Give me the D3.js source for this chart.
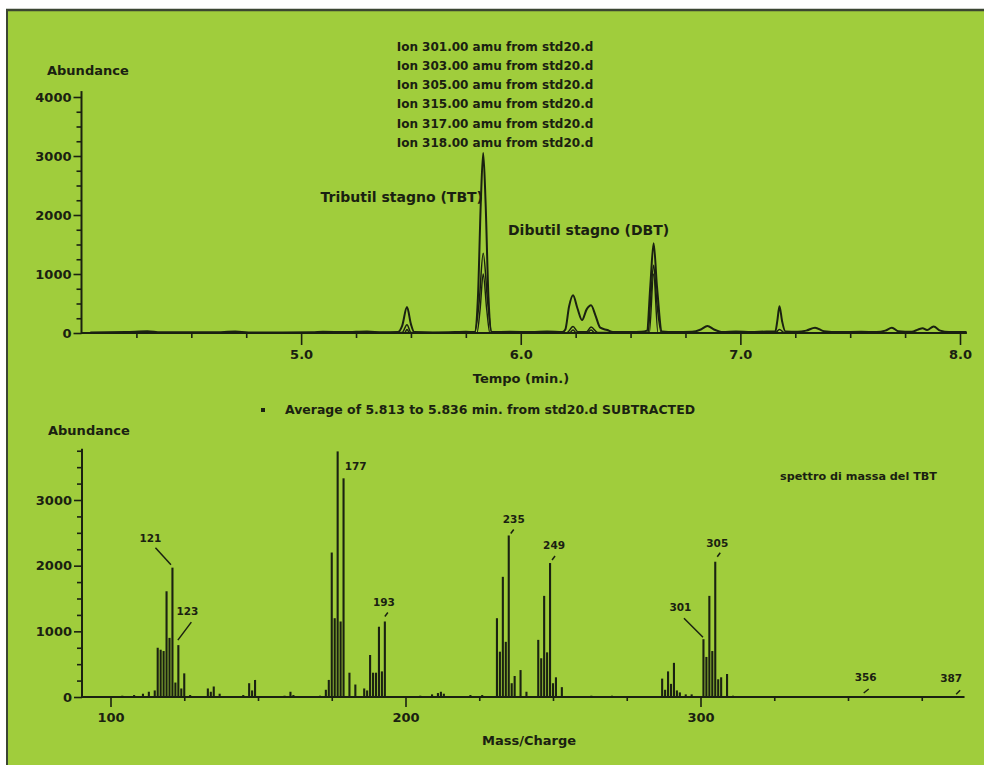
<!DOCTYPE html>
<html>
<head>
<meta charset="utf-8">
<script src="https://cdn.jsdelivr.net/npm/d3@7"></script>
<style>
  body { margin: 0; background: #fff; }
  svg text { font-family: "DejaVu Sans", sans-serif; font-weight: bold; fill: #1a2111; }
</style>
</head>
<body>
<svg id="chart" width="984" height="765"></svg>
<script>
// ---- data ----
const ionLabels = [
  "Ion 301.00 amu from std20.d",
  "Ion 303.00 amu from std20.d",
  "Ion 305.00 amu from std20.d",
  "Ion 315.00 amu from std20.d",
  "Ion 317.00 amu from std20.d",
  "Ion 318.00 amu from std20.d"
];

// chromatogram traces: [time (min), abundance]
const traceOuter = [
  [4.04, 10], [4.2, 15], [4.3, 30], [4.36, 12], [4.6, 12], [4.7, 25], [4.76, 10],
  [5.05, 12], [5.1, 20], [5.2, 15], [5.3, 25], [5.37, 12],
  [5.44, 15], [5.46, 120], [5.482, 440], [5.5, 150], [5.515, 15],
  [5.6, 10], [5.7, 15], [5.75, 20], [5.79, 15], [5.805, 600], [5.818, 2200], [5.829, 3050],
  [5.84, 2200], [5.853, 600], [5.868, 15],
  [5.95, 20], [6.05, 15], [6.12, 25], [6.19, 15], [6.203, 60], [6.22, 450], [6.238, 640],
  [6.258, 420], [6.279, 220], [6.3, 400], [6.32, 470], [6.34, 300], [6.362, 90], [6.394, 50], [6.42, 15],
  [6.5, 15], [6.55, 20], [6.575, 40], [6.59, 800], [6.605, 1520], [6.62, 800], [6.643, 25],
  [6.7, 15], [6.78, 20], [6.82, 60], [6.85, 120], [6.88, 60], [6.92, 15], [6.98, 25], [7.05, 15], [7.12, 25],
  [7.159, 25], [7.168, 200], [7.178, 455], [7.19, 200], [7.205, 25],
  [7.26, 20], [7.3, 40], [7.34, 90], [7.38, 30], [7.45, 15], [7.55, 20], [7.62, 15],
  [7.66, 40], [7.69, 90], [7.72, 30], [7.78, 20], [7.81, 60], [7.83, 80], [7.85, 50],
  [7.88, 110], [7.91, 40], [7.95, 15], [8.03, 15]
];
const traceMiddle = [
  [4.04, 0], [5.0, 5], [5.46, 10], [5.482, 140], [5.5, 10], [5.79, 5], [5.81, 500], [5.829, 1350],
  [5.85, 500], [5.868, 5], [6.21, 5], [6.238, 110], [6.26, 20], [6.3, 20], [6.32, 100], [6.35, 10],
  [6.58, 10], [6.59, 500], [6.605, 1150], [6.62, 500], [6.64, 5], [7.16, 5], [7.178, 60], [7.2, 5], [8.03, 5]
];
const traceInner = [
  [4.04, -5], [5.47, -5], [5.482, 60], [5.495, -5], [5.8, -5], [5.815, 400], [5.829, 1000],
  [5.845, 400], [5.86, -5], [6.22, -5], [6.238, 50], [6.255, -5], [6.3, -5], [6.32, 50], [6.34, -5],
  [6.585, -5], [6.605, 1000], [6.625, -5], [8.03, -5]
];

// mass spectrum
const massCharge = [
  104, 108, 111, 113, 115, 116, 117, 118, 119, 120, 121, 122, 123, 124, 125, 127,
  133, 134, 135, 137, 145, 147, 148, 149, 159, 161, 162, 171,
  173, 174, 175, 176, 177, 178, 179, 181, 183,
  186, 187, 188, 189, 190, 191, 192, 193,
  205, 209, 211, 212, 213, 222, 226,
  231, 232, 233, 234, 235, 236, 237, 239, 241,
  245, 246, 247, 248, 249, 250, 251, 253, 263, 270,
  287, 288, 289, 290, 291, 292, 293, 295, 297,
  301, 302, 303, 304, 305, 306, 307, 309, 311, 356, 387
];
const abundance = [
  20, 30, 50, 80, 100, 750, 720, 700, 1610, 900, 1970, 220, 790, 130, 360, 30,
  130, 80, 160, 50, 30, 210, 100, 260, 20, 80, 30, 20,
  110, 260, 2200, 1200, 3740, 1150, 3330, 370, 190,
  130, 100, 640, 370, 370, 1070, 390, 1150,
  20, 40, 60, 80, 50, 30, 30,
  1200, 690, 1830, 840, 2460, 210, 320, 410, 80,
  870, 590, 1540, 680, 2040, 210, 300, 150, 20, 20,
  280, 110, 390, 200, 520, 100, 70, 40, 40,
  880, 610, 1540, 700, 2060, 270, 300, 350, 20, 15, 10
];
const labelledPeaks = [121, 123, 177, 193, 235, 249, 301, 305, 356, 387];

const timeMajor = [5, 6, 7, 8];
const massMajor = [100, 200, 300];

// ---- drawing ----
const ink = "#1a2111";
const svg = d3.select("#chart");

// green panel with dark top/left edge
svg.append("rect").attr("x", 6).attr("y", 9).attr("width", 978).attr("height", 756).attr("fill", "#a0cd3c");
svg.append("line").attr("x1", 6).attr("y1", 10).attr("x2", 984).attr("y2", 10)
  .attr("stroke", "#3b4632").attr("stroke-width", 2.5);
svg.append("line").attr("x1", 7).attr("y1", 9).attr("x2", 7).attr("y2", 765)
  .attr("stroke", "#3b4632").attr("stroke-width", 2);

function styleAxis(g, size) {
  g.select(".domain").remove();
  g.selectAll("line").attr("stroke", ink).attr("stroke-width", 1.6);
  g.selectAll("text").attr("fill", ink).style("font-size", size + "px");
}

// ---------- top: chromatogram ----------
const xT = d3.scaleLinear().domain([4, 8]).range([81.5, 960]);
const yT = d3.scaleLinear().domain([0, 4000]).range([333, 97]);

svg.append("line").attr("x1", xT(4)).attr("x2", xT(4))
  .attr("y1", yT(0) + 1).attr("y2", yT(4100)).attr("stroke", ink).attr("stroke-width", 2);
svg.append("line").attr("x1", xT(4)).attr("x2", xT(8.03))
  .attr("y1", yT(0)).attr("y2", yT(0)).attr("stroke", ink).attr("stroke-width", 1.8);

svg.append("g").attr("transform", `translate(${xT(4)},0)`)
  .call(d3.axisLeft(yT).tickValues([0, 1000, 2000, 3000, 4000]).tickSize(8).tickPadding(2)
    .tickSizeOuter(0).tickFormat(d3.format("d")))
  .call(g => styleAxis(g, 13));
svg.append("g").attr("transform", `translate(${xT(4)},0)`)
  .call(d3.axisLeft(yT).tickValues(d3.range(250, 4000, 250).filter(v => v % 1000)).tickSize(5)
    .tickSizeOuter(0).tickFormat(""))
  .call(g => styleAxis(g, 13));

svg.append("g").attr("transform", `translate(0,${yT(0)})`)
  .call(d3.axisBottom(xT).tickValues(timeMajor).tickSize(12).tickPadding(5)
    .tickSizeOuter(0).tickFormat(d3.format(".1f")))
  .call(g => styleAxis(g, 13));
svg.append("g").attr("transform", `translate(0,${yT(0)})`)
  .call(d3.axisBottom(xT).tickValues(d3.range(4.25, 8, 0.25).filter(v => !timeMajor.includes(v)))
    .tickSize(5).tickSizeOuter(0).tickFormat(""))
  .call(g => styleAxis(g, 13));

const line = d3.line().x(d => xT(d[0])).y(d => yT(d[1])).curve(d3.curveMonotoneX);
[[traceInner, 1.4], [traceMiddle, 1.5], [traceOuter, 2]].forEach(([tr, w]) => {
  svg.append("path").datum(tr).attr("d", line)
    .attr("fill", "none").attr("stroke", ink).attr("stroke-width", w).attr("stroke-linejoin", "round");
});

svg.append("text").attr("x", 47).attr("y", 75).style("font-size", "13px").text("Abundance");
svg.selectAll(".ion").data(ionLabels).join("text")
  .attr("x", 495).attr("y", (d, i) => 50.5 + i * 19.3)
  .attr("text-anchor", "middle").style("font-size", "12px").text(d => d);
svg.append("text").attr("x", 483).attr("y", 202).attr("text-anchor", "end")
  .style("font-size", "14px").text("Tributil stagno (TBT)");
svg.append("text").attr("x", 508).attr("y", 235)
  .style("font-size", "14px").text("Dibutil stagno (DBT)");
svg.append("text").attr("x", 521).attr("y", 383).attr("text-anchor", "middle")
  .style("font-size", "13px").text("Tempo (min.)");

svg.append("rect").attr("x", 261).attr("y", 408).attr("width", 4).attr("height", 4).attr("fill", ink);
svg.append("text").attr("x", 285).attr("y", 414).attr("textLength", 410).attr("lengthAdjust", "spacingAndGlyphs")
  .style("font-size", "13px").text("Average of 5.813 to 5.836 min. from std20.d SUBTRACTED");

// ---------- bottom: mass spectrum ----------
const xB = d3.scaleLinear().domain([100, 300]).range([110.5, 700.5]);
const yB = d3.scaleLinear().domain([0, 3000]).range([697, 500]);

svg.append("line").attr("x1", 82).attr("x2", 82)
  .attr("y1", yB(0) + 1).attr("y2", yB(3780)).attr("stroke", ink).attr("stroke-width", 2);
svg.append("line").attr("x1", 82).attr("x2", xB(389.5))
  .attr("y1", yB(0)).attr("y2", yB(0)).attr("stroke", ink).attr("stroke-width", 1.8);

svg.append("g").attr("transform", "translate(82,0)")
  .call(d3.axisLeft(yB).tickValues([0, 1000, 2000, 3000]).tickSize(8).tickPadding(2)
    .tickSizeOuter(0).tickFormat(d3.format("d")))
  .call(g => styleAxis(g, 13));
svg.append("g").attr("transform", "translate(82,0)")
  .call(d3.axisLeft(yB).tickValues(d3.range(250, 3800, 250).filter(v => v % 1000)).tickSize(5)
    .tickSizeOuter(0).tickFormat(""))
  .call(g => styleAxis(g, 13));

svg.append("g").attr("transform", `translate(0,${yB(0)})`)
  .call(d3.axisBottom(xB).tickValues(massMajor).tickSize(10).tickPadding(6)
    .tickSizeOuter(0).tickFormat(d3.format("d")))
  .call(g => styleAxis(g, 13));
svg.append("g").attr("transform", `translate(0,${yB(0)})`)
  .call(d3.axisBottom(xB).tickValues(d3.range(125, 390, 25).filter(v => !massMajor.includes(v)))
    .tickSize(4).tickSizeOuter(0).tickFormat(""))
  .call(g => styleAxis(g, 13));

const spectrum = massCharge.map((m, i) => ({ m, v: abundance[i] }));
svg.append("g").selectAll("line").data(spectrum).join("line")
  .attr("x1", d => xB(d.m)).attr("x2", d => xB(d.m))
  .attr("y1", yB(0)).attr("y2", d => yB(d.v))
  .attr("stroke", ink).attr("stroke-width", 2.1);

// peak annotations: label offset and leader / tick mark relative to bar top
const annot = {
  121: { dx: -22, dy: -30, lead: [-17, -20, -1.5, -3] },
  123: { dx: 9, dy: -34, lead: [13, -23, -0.5, -5] },
  177: { dx: 18, dy: 15, lead: null },
  193: { dx: -1, dy: -19, lead: [0, -5, 3, -9] },
  235: { dx: 5, dy: -16, lead: [2, -2, 5, -6] },
  249: { dx: 4, dy: -18, lead: [2, -3, 5, -7] },
  301: { dx: -23, dy: -32, lead: [-19.5, -21, -0.5, -2] },
  305: { dx: 2, dy: -19, lead: [2, -5, 5, -9] },
  356: { dx: 0, dy: -19, lead: [-2, -3, 3, -7] },
  387: { dx: -6, dy: -18, lead: [-1, -2, 3, -6] }
};
labelledPeaks.forEach(m => {
  const v = abundance[massCharge.indexOf(m)];
  const px = xB(m), py = yB(v), a = annot[m];
  svg.append("text").attr("x", px + a.dx).attr("y", py + a.dy + 4)
    .attr("text-anchor", "middle").style("font-size", "10.5px").text(m);
  if (a.lead) {
    svg.append("line")
      .attr("x1", px + a.lead[0]).attr("y1", py + a.lead[1])
      .attr("x2", px + a.lead[2]).attr("y2", py + a.lead[3])
      .attr("stroke", ink).attr("stroke-width", 1.5);
  }
});

svg.append("text").attr("x", 48).attr("y", 435).style("font-size", "13px").text("Abundance");
svg.append("text").attr("x", 780).attr("y", 480).attr("textLength", 157).attr("lengthAdjust", "spacingAndGlyphs")
  .style("font-size", "11px").text("spettro di massa del TBT");
svg.append("text").attr("x", 482).attr("y", 745).style("font-size", "13px").text("Mass/Charge");
</script>
</body>
</html>
